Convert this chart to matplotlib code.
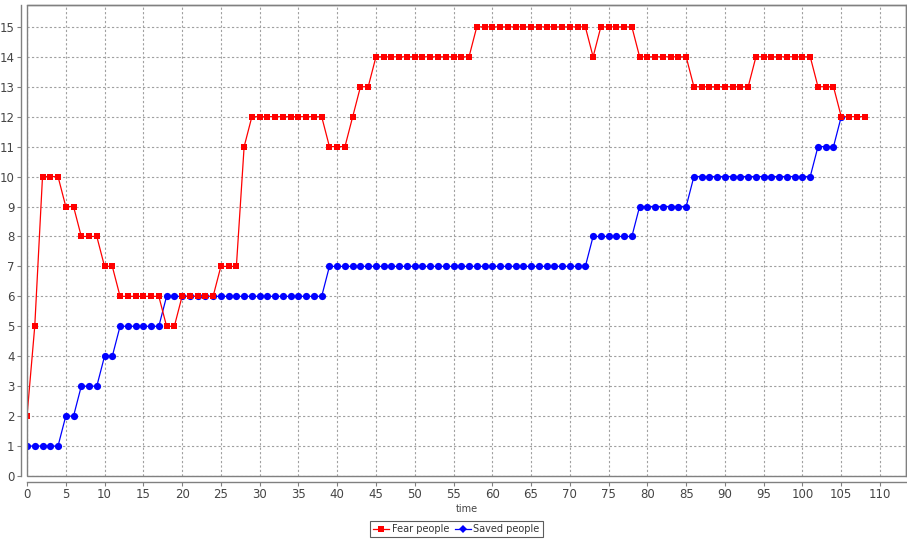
import matplotlib
matplotlib.use("Agg")
import matplotlib.pyplot as plt
from matplotlib.lines import Line2D
from matplotlib.patches import Rectangle

# ---- data ----
fear_people = [2, 5, 10, 10, 10, 9, 9, 8, 8, 8, 7, 7,
               6, 6, 6, 6, 6, 6, 5, 5, 6, 6, 6, 6, 6,
               7, 7, 7, 11,
               12, 12, 12, 12, 12, 12, 12, 12, 12, 12,
               11, 11, 11, 12, 13, 13,
               14, 14, 14, 14, 14, 14, 14, 14, 14, 14, 14, 14, 14,
               15, 15, 15, 15, 15, 15, 15, 15, 15, 15, 15, 15, 15, 15, 15,
               14, 15, 15, 15, 15, 15,
               14, 14, 14, 14, 14, 14, 14,
               13, 13, 13, 13, 13, 13, 13, 13,
               14, 14, 14, 14, 14, 14, 14, 14,
               13, 13, 13,
               12, 12, 12, 12]
saved_people = [1, 1, 1, 1, 1, 2, 2, 3, 3, 3, 4, 4,
                5, 5, 5, 5, 5, 5,
                6, 6, 6, 6, 6, 6, 6, 6, 6, 6, 6, 6, 6, 6, 6, 6, 6, 6, 6, 6, 6,
                7, 7, 7, 7, 7, 7, 7, 7, 7, 7, 7, 7, 7, 7, 7, 7, 7,
                7, 7, 7, 7, 7, 7, 7, 7, 7, 7, 7, 7, 7, 7, 7, 7, 7,
                8, 8, 8, 8, 8, 8,
                9, 9, 9, 9, 9, 9, 9,
                10, 10, 10, 10, 10, 10, 10, 10, 10, 10, 10, 10, 10, 10, 10, 10,
                11, 11, 11,
                12]
fear_time = list(range(len(fear_people)))
saved_time = list(range(len(saved_people)))
x_ticks = list(range(0, 111, 5))
y_ticks = list(range(0, 16))
series_names = ["Fear people", "Saved people"]
x_label = "time"

W, H = 907, 540
fig = plt.figure(figsize=(W / 100, H / 100), dpi=100)
fig.patch.set_facecolor("white")

left, right, top, bottom = 27, 906, 5, 476
ax = fig.add_axes([left / W, 1 - bottom / H, (right - left) / W, (bottom - top) / H])
ax.set_facecolor("white")

ax.set_xlim(0, 113.35)
ax.set_ylim(0, 15.73)

ax.plot(fear_time, fear_people, color="#ff0000", lw=0.9, marker="s",
        markersize=5, markeredgewidth=0, zorder=3, label=series_names[0])
ax.plot(saved_time, saved_people, color="#0000ff", lw=0.9, marker="o",
        markersize=5.2, markeredgewidth=0, zorder=2, label=series_names[1])

ax.set_xticks(x_ticks)
ax.set_yticks(y_ticks)
ax.grid(True, color="#a0a0a0", linestyle=(0, (2, 2)), linewidth=0.8)
ax.set_axisbelow(True)

tick_col = "#444444"
ax.tick_params(axis="both", direction="out", length=3, width=0.8, color="#808080",
               labelcolor=tick_col, labelsize=8.5, pad=2)

for s in ["top", "right"]:
    ax.spines[s].set_color("#808080")
    ax.spines[s].set_linewidth(1.0)
for s in ["left", "bottom"]:
    ax.spines[s].set_position(("outward", 4))
    ax.spines[s].set_color("#808080")
    ax.spines[s].set_linewidth(1.0)
# plot outline on left/bottom
ax.add_patch(Rectangle((0, 0), 1, 1, transform=ax.transAxes, fill=False,
                       edgecolor="#808080", linewidth=1.0, zorder=5, clip_on=False))

ax.set_xlabel(x_label, fontsize=7, color=tick_col, labelpad=2)

leg = fig.legend(handles=[
    Line2D([], [], color="#ff0000", marker="s", markersize=5, lw=0.9, markeredgewidth=0),
    Line2D([], [], color="#0000ff", marker="D", markersize=4.5, lw=0.9, markeredgewidth=0)],
    labels=series_names, loc="center", bbox_to_anchor=(456.5 / W, 1 - 529 / H),
    ncol=2, fontsize=7, frameon=True, fancybox=False, handlelength=1.6,
    handletextpad=0.3, columnspacing=0.6, borderpad=0.35, borderaxespad=0)
leg.get_frame().set_edgecolor("#333333")
leg.get_frame().set_linewidth(0.8)
for t in leg.get_texts():
    t.set_color("#333333")

fig.savefig("out.png", dpi=100, facecolor="white")
